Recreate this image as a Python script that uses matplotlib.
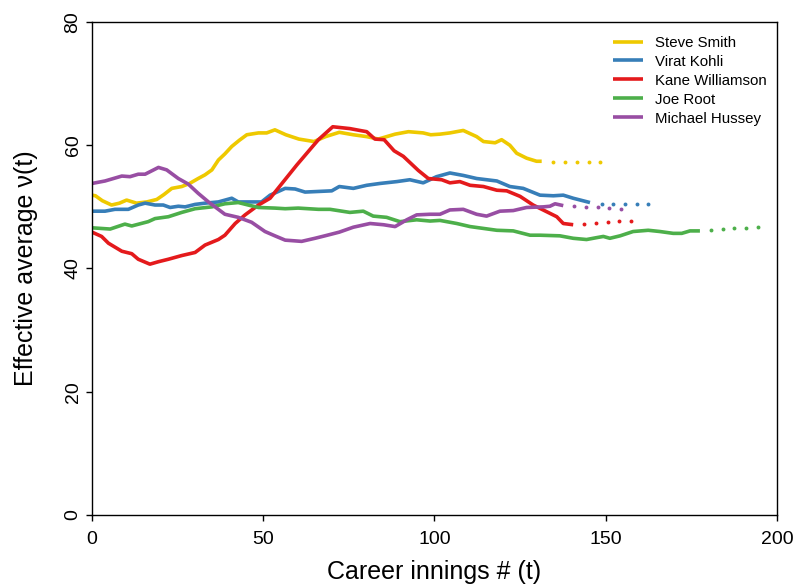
import matplotlib
matplotlib.use("Agg")
import matplotlib.pyplot as plt

plt.rcParams['font.family'] = ['Liberation Sans', 'DejaVu Sans']

# Steve Smith
smith_x = [0, 1, 3, 5.7, 8, 10.1, 13, 16, 18.9, 21, 23.3, 26.2, 28.5, 31, 33, 35, 36.9, 38.8, 40.8, 43,
           45.2, 48.6, 51, 53.4, 56.6, 60.4, 64.8, 68.2, 72.2, 76.3, 80.2, 83.6, 88.5, 92.4, 96.7, 98.9,
           101.6, 104.5, 108.4, 112.3, 114.3, 117.7, 119.6, 122, 124, 126.9, 129.8, 131.3]
smith_y = [51.9, 51.8, 51.0, 50.3, 50.6, 51.1, 50.6, 50.8, 51.2, 52.0, 53.0, 53.3, 53.8, 54.6, 55.2, 56.0,
           57.6, 58.6, 59.8, 60.8, 61.7, 62.0, 62.0, 62.5, 61.7, 61.0, 60.6, 61.4, 62.1, 61.7, 61.4, 61.0,
           61.8, 62.2, 62.0, 61.7, 61.8, 62.0, 62.4, 61.4, 60.6, 60.4, 60.9, 60.0, 58.7, 57.9, 57.4, 57.4]
smith_px = [134.7, 138.1, 141.5, 145.0, 148.3]
smith_py = [57.3, 57.3, 57.3, 57.3, 57.3]

# Virat Kohli
kohli_x = [0, 3.8, 6.7, 10.6, 13.5, 15.5, 18.4, 20.8, 22.8, 25.2, 27.2, 30.1, 33, 36.9, 40.8, 42.7, 46.6,
           49.5, 52, 56.4, 59.3, 62.2, 66.1, 70, 72.2, 76.3, 80.2, 84.1, 89, 92.8, 96.7, 100.6, 104.5,
           108.4, 112.3, 118.2, 122, 125.9, 130.8, 134.7, 137.6, 140.5, 145.4]
kohli_y = [49.3, 49.3, 49.6, 49.6, 50.3, 50.6, 50.3, 50.3, 49.9, 50.1, 50.0, 50.4, 50.6, 50.8, 51.4, 50.8,
           50.8, 50.8, 51.9, 53.0, 52.9, 52.4, 52.5, 52.6, 53.3, 53.0, 53.5, 53.8, 54.1, 54.4, 53.9, 54.9,
           55.5, 55.1, 54.6, 54.2, 53.3, 53.0, 51.9, 51.8, 51.9, 51.4, 50.7]
kohli_px = [148.8, 152.2, 155.6, 159.0, 162.4]
kohli_py = [50.5, 50.5, 50.5, 50.5, 50.5]

# Kane Williamson
kane_x = [0, 2.8, 4.8, 8.7, 11.6, 13.5, 16.9, 19.4, 22.3, 26.2, 30.1, 33, 36.9, 38.8, 41.8, 44.7, 48.6,
          52, 55.9, 59.8, 64.4, 66.1, 70.3, 75.3, 78.2, 80.2, 82.6, 85.3, 88.2, 90.9, 95.3, 98.2, 102.1,
          104.5, 107.4, 110.4, 114.3, 118.2, 121.1, 125, 128.8, 132.8, 135.7, 137.6, 140.5]
kane_y = [45.9, 45.2, 44.1, 42.8, 42.4, 41.5, 40.7, 41.1, 41.5, 42.1, 42.6, 43.8, 44.7, 45.4, 47.3, 48.7,
          50.3, 51.4, 54.1, 56.8, 59.8, 60.9, 63.0, 62.7, 62.4, 62.2, 61.0, 60.9, 59.1, 58.2, 55.9, 54.6,
          54.4, 53.9, 54.1, 53.5, 53.3, 52.7, 52.6, 51.7, 50.3, 49.2, 48.4, 47.3, 47.1]
kane_px = [143.7, 147.2, 150.6, 154.0, 157.4]
kane_py = [47.2, 47.4, 47.5, 47.7, 47.7]

# Joe Root
root_x = [0, 5.3, 9.6, 11.6, 16.4, 18.4, 22.3, 26.2, 30.1, 35, 38.8, 42.7, 45.6, 48.6, 53.4, 56.4, 60.2,
          66.1, 69.5, 75.3, 79.2, 82.1, 86, 89.9, 94.8, 98.7, 101.6, 106.5, 110.4, 114.3, 118.2, 123,
          127.9, 130.8, 136.6, 140.5, 144.4, 147.3, 149.3, 151.2, 154.2, 158, 162.4, 165.8, 169.7, 172.2,
          174.6, 177.5]
root_y = [46.6, 46.4, 47.2, 46.9, 47.6, 48.1, 48.4, 49.1, 49.7, 50.0, 50.5, 50.7, 50.3, 49.9, 49.8, 49.7,
          49.8, 49.6, 49.6, 49.1, 49.3, 48.5, 48.3, 47.6, 47.9, 47.7, 47.8, 47.3, 46.8, 46.5, 46.2, 46.1,
          45.4, 45.4, 45.3, 44.9, 44.7, 45.0, 45.2, 44.9, 45.3, 46.0, 46.2, 46.0, 45.7, 45.7, 46.1, 46.1]
root_px = [180.7, 184.1, 187.5, 190.9, 194.4]
root_py = [46.2, 46.4, 46.5, 46.6, 46.7]

# Michael Hussey
hussey_x = [0, 3.8, 8.7, 11.1, 13.5, 15.5, 19.4, 21.8, 25.2, 28.1, 31, 34, 38.8, 42.7, 46.6, 50.5, 53.4,
            56.4, 61.2, 65.1, 68, 72.2, 76.3, 81.2, 85.1, 88.5, 91.9, 94.8, 98.7, 101.6, 104.5, 108.4,
            112.3, 115.2, 119.1, 123, 126.9, 131.8, 133.7, 135.2, 137.6]
hussey_y = [53.8, 54.2, 55.0, 54.9, 55.3, 55.3, 56.4, 56.0, 54.6, 53.7, 52.2, 50.8, 48.8, 48.3, 47.5, 46.0,
            45.3, 44.6, 44.4, 44.9, 45.3, 45.9, 46.7, 47.3, 47.1, 46.8, 47.9, 48.7, 48.8, 48.8, 49.5, 49.6,
            48.8, 48.5, 49.3, 49.4, 49.9, 50.0, 50.1, 50.5, 50.2]
hussey_px = [140.8, 144.2, 147.6, 151.0, 154.4]
hussey_py = [50.1, 50.0, 49.9, 49.8, 49.7]

names = ["Steve Smith", "Virat Kohli", "Kane Williamson", "Joe Root", "Michael Hussey"]
colors = ["#EEC900", "#377EB8", "#E41A1C", "#4DAF4A", "#984EA3"]
series = [
    (smith_x, smith_y, smith_px, smith_py),
    (kohli_x, kohli_y, kohli_px, kohli_py),
    (kane_x, kane_y, kane_px, kane_py),
    (root_x, root_y, root_px, root_py),
    (hussey_x, hussey_y, hussey_px, hussey_py),
]

fig = plt.figure(figsize=(7.96, 5.85), dpi=100)
ax = fig.add_axes([0.1156, 0.1197, 0.8605, 0.8427])

for (x, y, px, py), name, c in zip(series, names, colors):
    ax.plot(x, y, color=c, lw=2.6, label=name, solid_capstyle="butt")
    ax.plot(px, py, "o", color=c, ms=2.8, mew=0)

ax.set_xlim(0, 200)
ax.set_ylim(0, 80)
ax.set_xticks([0, 50, 100, 150, 200])
ax.set_yticks([0, 20, 40, 60, 80])
ax.set_yticklabels(["0", "20", "40", "60", "80"], rotation=90, va="center")
ax.tick_params(direction="out", length=4.5, width=1, labelsize=14)
ax.tick_params(axis="x", pad=7)
ax.tick_params(axis="y", pad=3)
for s in ax.spines.values():
    s.set_linewidth(1)

ax.set_xlabel("Career innings # (t)", fontsize=18, labelpad=9)
ax.set_ylabel("Effective average ν(t)", fontsize=18, labelpad=19)

ax.legend(loc="upper left", bbox_to_anchor=(0.76, 0.972), frameon=False, fontsize=10.8,
          handlelength=2.0, handletextpad=0.85, labelspacing=0.33, borderpad=0, borderaxespad=0)

fig.savefig("out.png", dpi=100)
